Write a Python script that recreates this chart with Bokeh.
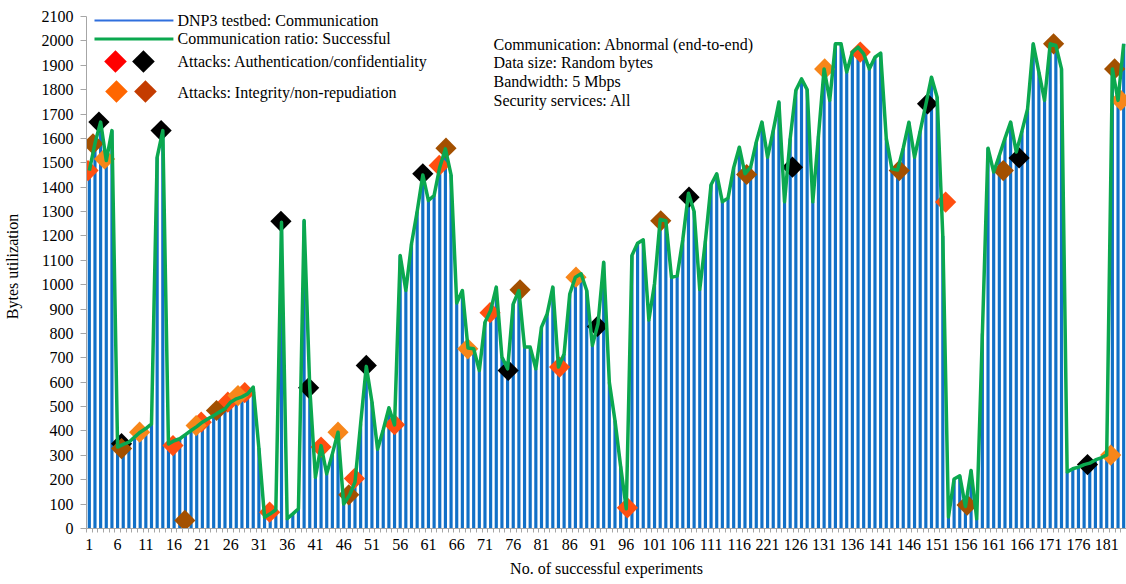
import math
from bokeh.plotting import figure
from bokeh.models import FixedTicker, Label, Range1d
from bokeh.embed import file_html
from bokeh.resources import INLINE

# ---------------- data ----------------
experiments = list(range(1, 185))
bytes_util = [
    1468, 1580, 1667, 1509, 1632, 334, 345, 354, 375, 395,
    410, 429, 1523, 1632, 347, 360, 368, 385, 402, 418,
    436, 450, 463, 478, 491, 518, 532, 540, 552, 580,
    330, 46, 60, 77, 1256, 40, 60, 81, 1263, 577,
    210, 340, 224, 306, 395, 100, 135, 190, 430, 665,
    520, 325, 405, 495, 425, 1120, 976, 1168, 1300, 1450,
    1345, 1366, 1482, 1557, 1450, 925, 976, 740, 737, 648,
    846, 894, 990, 703, 655, 921, 976, 744, 744, 655,
    826, 880, 990, 662, 716, 962, 1031, 1045, 976, 751,
    840, 1092, 600, 443, 255, 81, 1120, 1170, 1184, 855,
    1005, 1268, 1262, 1030, 1036, 1185, 1375, 1300, 980, 1180,
    1410, 1455, 1340, 1355, 1480, 1564, 1455, 1482, 1585, 1667,
    1523, 1632, 1749, 1340, 1600, 1797, 1844, 1800, 1340, 1610,
    1885, 1756, 1988, 1988, 1872, 1954, 1974, 1947, 1885, 1933,
    1950, 1600, 1475, 1470, 1560, 1666, 1523, 1630, 1740, 1851,
    1769, 1200, 47, 203, 216, 90, 238, 40, 800, 1560,
    1462, 1530, 1600, 1667, 1544, 1630, 1721, 1988, 1872, 1756,
    1988, 1981, 1885, 232, 245, 252, 262, 268, 281, 290,
    302, 1885, 1756, 1988,
]

x_tick_values = list(range(1, 182, 5))
x_tick_labels = [str(v) for v in x_tick_values]
x_tick_labels[x_tick_values.index(121)] = "221"   # as printed in the source
y_tick_values = list(range(0, 2101, 100))

# attacks: authentication / confidentiality
auth_red_x = [0.77, 15.8, 20.8, 25.5, 28.5, 32.9, 42.0, 47.9, 55.0, 62.9, 71.9, 84.2, 96.2, 137.4, 152.5]
auth_red_y = [1468, 340, 436, 518, 557, 67, 334, 205, 426, 1489, 885, 662, 85, 1954, 1339]
auth_black_x = [2.7, 6.7, 13.7, 34.9, 39.8, 50.0, 60.0, 75.1, 90.9, 107.1, 125.4, 149.3, 165.5, 177.6]
auth_black_y = [1667, 348, 1632, 1260, 577, 669, 1455, 648, 829, 1359, 1482, 1742, 1520, 262]
# attacks: integrity / non-repudiation
integ_orange_x = [3.7, 9.9, 19.9, 27.3, 45.0, 67.95, 87.1, 131.1, 181.7, 183.5]
integ_orange_y = [1516, 395, 422, 545, 395, 737, 1031, 1885, 301, 1756]
integ_brown_x = [1.65, 6.7, 17.9, 23.5, 46.9, 64.1, 77.2, 102.1, 117.3, 144.3, 156.3, 162.7, 171.6, 182.4]
integ_brown_y = [1578, 328, 33, 484, 138, 1560, 979, 1262, 1452, 1468, 96, 1468, 1988, 1885]

series_names = ["DNP3 testbed: Communication", "Communication ratio: Successful",
                "Attacks: Authentication/confidentiality", "Attacks: Integrity/non-repudiation"]
info_lines = ["Communication: Abnormal (end-to-end)", "Data size: Random bytes",
              "Bandwidth: 5 Mbps", "Security services: All"]

# ---------------- style ----------------
FONT = "Liberation Serif"
BLUE = "#1170C7"
GREEN = "#0BA84F"
GRAY = "#A6A6A6"

W, H = 1126, 584
FL = 85
FT = 4                 # frame top (page px); axis line itself stops at 2100 (y=16)
Y_AXIS_TOP_PX = 16
FB_PX = 528            # frame bottom (value 0)
FH = FB_PX - FT
FB = H - FB_PX
FW = W - FL
X0, X1 = 0.5, 184.5
Y0 = 0
Y_AX_MAX = 2100
Y1 = Y_AX_MAX * FH / (FB_PX - Y_AXIS_TOP_PX)


def dx(px):  # page px -> data x (for legend decorations)
    return X0 + (px - FL) * (X1 - X0) / FW


def dy(py):
    return Y0 + (FB_PX - py) * (Y1 - Y0) / FH


p = figure(width=W, height=H, output_backend="svg", toolbar_location=None, title=None,
           x_range=Range1d(X0, X1), y_range=Range1d(Y0, Y1),
           min_border_left=FL, min_border_right=0, min_border_top=FT, min_border_bottom=FB)
p.outline_line_color = None
p.grid.visible = False
p.background_fill_color = "white"
p.border_fill_color = "white"

# bars
p.vbar(x=experiments, top=bytes_util, width=0.56, fill_color=BLUE, line_color=None)

# attack markers
for xs, ys, col in [(auth_red_x, auth_red_y, "#FF4F10"),
                    (auth_black_x, auth_black_y, "#000000"),
                    (integ_orange_x, integ_orange_y, "#F7861A"),
                    (integ_brown_x, integ_brown_y, "#A35000")]:
    p.scatter(x=xs, y=ys, marker="square", size=15, angle=math.pi / 4,
              fill_color=col, line_color=None)

# line
p.line(experiments, bytes_util, line_color=GREEN, line_width=3.5, line_join="round")

# ---------- legend (drawn manually) ----------
p.segment(x0=[dx(93)], y0=[dy(20)], x1=[dx(172)], y1=[dy(20)], line_color="#2F6FDD", line_width=2)
p.segment(x0=[dx(93)], y0=[dy(38.5)], x1=[dx(172)], y1=[dy(38.5)], line_color=GREEN, line_width=3)
p.scatter(x=[dx(114), dx(142)], y=[dy(61), dy(61)], marker="square", size=16, angle=math.pi / 4,
          fill_color=["#FF0000", "#000000"], line_color=None)
p.scatter(x=[dx(115), dx(144)], y=[dy(91), dy(91)], marker="square", size=16, angle=math.pi / 4,
          fill_color=["#FF6600", "#C43C00"], line_color=None)

for text, py in zip(series_names, [20, 37.5, 60.5, 91.5]):
    p.add_layout(Label(x=176 - FL, y=FB_PX - py, x_units="screen", y_units="screen",
                       text=text, text_font=FONT, text_font_size="16px", text_color="#000000",
                       text_baseline="middle", text_align="left"))
for text, py in zip(info_lines, [43.5, 62, 80.5, 99.5]):
    p.add_layout(Label(x=492 - FL, y=FB_PX - py, x_units="screen", y_units="screen",
                       text=text, text_font=FONT, text_font_size="16px", text_color="#000000",
                       text_baseline="middle", text_align="left"))

# ---------- axes ----------
xa = p.xaxis[0]
xa.ticker = FixedTicker(ticks=x_tick_values, minor_ticks=[k + 0.5 for k in range(0, 185)])
xa.major_label_overrides = {v: l for v, l in zip(x_tick_values, x_tick_labels)}
xa.major_tick_line_color = None
xa.major_tick_out = 4
xa.major_tick_in = 0
xa.minor_tick_out = 4
xa.minor_tick_in = 0
xa.minor_tick_line_color = GRAY
xa.axis_line_color = GRAY
xa.major_label_standoff = 6
xa.major_label_text_font = FONT
xa.major_label_text_font_size = "16px"
xa.major_label_text_color = "#000000"
xa.axis_label = "No. of successful experiments"
xa.axis_label_text_font = FONT
xa.axis_label_text_font_size = "16px"
xa.axis_label_text_font_style = "normal"
xa.axis_label_text_color = "#000000"
xa.axis_label_standoff = 7

ya = p.yaxis[0]
ya.ticker = FixedTicker(ticks=y_tick_values)
ya.bounds = (Y0, Y_AX_MAX)
ya.minor_tick_line_color = None
ya.major_tick_out = 6
ya.major_tick_in = 0
ya.major_tick_line_color = GRAY
ya.axis_line_color = GRAY
ya.major_label_standoff = 7
ya.major_label_text_font = FONT
ya.major_label_text_font_size = "16px"
ya.major_label_text_color = "#000000"
ya.axis_label = "Bytes utilization"
ya.axis_label_text_font = FONT
ya.axis_label_text_font_size = "16px"
ya.axis_label_text_font_style = "normal"
ya.axis_label_text_color = "#000000"
ya.axis_label_standoff = 18

open("out.html", "w").write(file_html(p, INLINE))
